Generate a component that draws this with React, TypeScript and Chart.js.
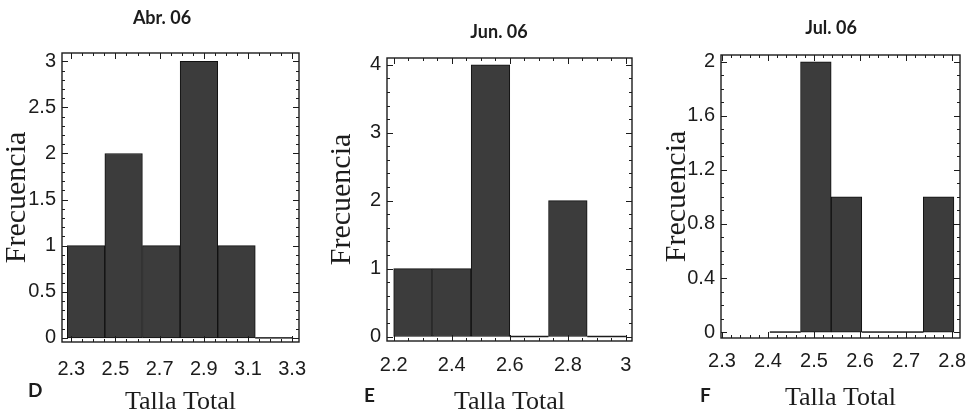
import React, { useEffect, useRef } from 'react';
import { Chart, registerables } from 'chart.js';

Chart.register(...registerables);

// ---------- Panel D : Abr. 06 ----------
const titleD = 'Abr. 06';
const binEdgesD = [2.282, 2.452, 2.622, 2.793, 2.963, 3.133, 3.303];
const countsD = [1, 2, 1, 3, 1, 0];
const xTicksD = [2.3, 2.5, 2.7, 2.9, 3.1, 3.3];
const xTickLabelsD = ['2.3', '2.5', '2.7', '2.9', '3.1', '3.3'];
const yTicksD = [0, 0.5, 1, 1.5, 2, 2.5, 3];
const yTickLabelsD = ['0', '0.5', '1', '1.5', '2', '2.5', '3'];

// ---------- Panel E : Jun. 06 ----------
const titleE = 'Jun. 06';
const binEdgesE = [2.2, 2.333, 2.467, 2.6, 2.733, 2.867, 3.0];
const countsE = [1, 1, 4, 0, 2, 0];
const xTicksE = [2.2, 2.4, 2.6, 2.8, 3.0];
const xTickLabelsE = ['2.2', '2.4', '2.6', '2.8', '3'];
const yTicksE = [0, 1, 2, 3, 4];
const yTickLabelsE = ['0', '1', '2', '3', '4'];

// ---------- Panel F : Jul. 06 ----------
const titleF = 'Jul. 06';
const binEdgesF = [2.404, 2.471, 2.537, 2.604, 2.671, 2.737, 2.804];
const countsF = [0, 2, 1, 0, 0, 1];
const xTicksF = [2.3, 2.4, 2.5, 2.6, 2.7, 2.8];
const xTickLabelsF = ['2.3', '2.4', '2.5', '2.6', '2.7', '2.8'];
const yTicksF = [0, 0.4, 0.8, 1.2, 1.6, 2];
const yTickLabelsF = ['0', '0.4', '0.8', '1.2', '1.6', '2'];

const xAxisTitle = 'Talla Total';
const yAxisTitle = 'Frecuencia';

type Panel = {
  title: string;
  letter: string;
  edges: number[];
  counts: number[];
  xTicks: number[];
  xLabels: string[];
  yTicks: number[];
  yLabels: string[];
  xRange: [number, number];
  yRange: [number, number];
  xMinor: number;
  yMinor: number;
  // layout
  left: number;
  width: number;
  yW: number;
  yRW: number;
  titlePadTop: number;
  titlePadBottom: number;
  xH: number;
  xTickPad: number;
  xTitlePadBottom: number;
  letterPos: [number, number];
};

const panels: Panel[] = [
  {
    title: titleD, letter: 'D', edges: binEdgesD, counts: countsD,
    xTicks: xTicksD, xLabels: xTickLabelsD, yTicks: yTicksD, yLabels: yTickLabelsD,
    xRange: [2.258, 3.331], yRange: [-0.045, 3.09], xMinor: 0.05, yMinor: 0.1,
    left: 0, width: 324, yW: 62, yRW: 25, titlePadTop: 7.2, titlePadBottom: 24.2,
    xH: 77, xTickPad: 15, xTitlePadBottom: 1, letterPos: [28, 379],
  },
  {
    title: titleE, letter: 'E', edges: binEdgesE, counts: countsE,
    xTicks: xTicksE, xLabels: xTickLabelsE, yTicks: yTicksE, yLabels: yTickLabelsE,
    xRange: [2.177, 3.021], yRange: [-0.066, 4.1], xMinor: 0.05, yMinor: 0.2,
    left: 325, width: 348, yW: 62, yRW: 41, titlePadTop: 21.2, titlePadBottom: 15.2,
    xH: 78, xTickPad: 12, xTitlePadBottom: 1, letterPos: [364, 384],
  },
  {
    title: titleF, letter: 'F', edges: binEdgesF, counts: countsF,
    xTicks: xTicksF, xLabels: xTickLabelsF, yTicks: yTicksF, yLabels: yTickLabelsF,
    xRange: [2.298, 2.817], yRange: [-0.044, 2.05], xMinor: 0.02, yMinor: 0.1,
    left: 660, width: 342, yW: 61, yRW: 42, titlePadTop: 17.2, titlePadBottom: 16.2,
    xH: 81, xTickPad: 11, xTitlePadBottom: 5, letterPos: [700, 384],
  },
];

const H = 419;
const INK = '#1c1c1c';
const TICK_FONT = "'Liberation Sans', Arial, sans-serif";
const SERIF = "'Liberation Serif', 'Times New Roman', serif";

const framePlugin = {
  id: 'frameTicks',
  afterDatasetsDraw(chart: any, _args: any, opts: any) {
    const { ctx, chartArea } = chart;
    const { left, right, top, bottom } = chartArea;
    const x = chart.scales.x;
    const y = chart.scales.y;
    const meta = chart.getDatasetMeta(0);
    const ds = chart.data.datasets[0].data as any[];
    ctx.save();
    // zero-count bins are drawn as a line on the baseline
    ctx.strokeStyle = INK;
    ctx.lineWidth = 1.3;
    meta.data.forEach((el: any, i: number) => {
      if (ds[i].y === 0) {
        const p = el.getProps(['x', 'width', 'base'], true);
        ctx.beginPath();
        ctx.moveTo(p.x - p.width / 2, p.base);
        ctx.lineTo(p.x + p.width / 2, p.base);
        ctx.stroke();
      }
    });
    // frame
    ctx.lineWidth = 1.4;
    ctx.strokeRect(left, top, right - left, bottom - top);
    ctx.lineWidth = 1;
    const tickX = (v: number, len: number) => {
      const p = Math.round(x.getPixelForValue(v)) + 0.5;
      if (p < left + 1 || p > right - 1) return;
      ctx.beginPath();
      ctx.moveTo(p, bottom);
      ctx.lineTo(p, bottom - len);
      ctx.moveTo(p, top);
      ctx.lineTo(p, top + len);
      ctx.stroke();
    };
    const tickY = (v: number, len: number) => {
      const p = Math.round(y.getPixelForValue(v)) + 0.5;
      if (p < top + 1 || p > bottom - 1) return;
      ctx.beginPath();
      ctx.moveTo(left, p);
      ctx.lineTo(left + len, p);
      ctx.moveTo(right, p);
      ctx.lineTo(right - len, p);
      ctx.stroke();
    };
    const xs = opts.xMinor as number;
    for (let k = Math.ceil(x.min / xs); k * xs <= x.max; k++) tickX(k * xs, 3);
    const ys = opts.yMinor as number;
    for (let k = Math.ceil(y.min / ys); k * ys <= y.max; k++) tickY(k * ys, 3);
    (opts.xTicks as number[]).forEach((v) => tickX(v, 6));
    (opts.yTicks as number[]).forEach((v) => tickY(v, 6));
    ctx.restore();
  },
};

function Histogram({ p }: { p: Panel }) {
  const ref = useRef<HTMLCanvasElement | null>(null);
  useEffect(() => {
    if (!ref.current) return;
    const data = p.counts.map((c, i) => ({ x: (p.edges[i] + p.edges[i + 1]) / 2, y: c }));
    const chart = new Chart(ref.current, {
      type: 'bar',
      data: {
        datasets: [
          {
            data,
            backgroundColor: '#3c3c3c',
            borderColor: '#111111',
            borderWidth: (c: any) => (c.raw && c.raw.y === 0 ? 0 : 1),
            borderSkipped: false,
            barPercentage: 1,
            categoryPercentage: 1,
          } as any,
        ],
      },
      options: {
        animation: false,
        responsive: false,
        maintainAspectRatio: false,
        events: [],
        layout: { padding: 0 },
        plugins: {
          legend: { display: false },
          tooltip: { enabled: false },
          title: {
            display: true,
            text: p.title,
            color: INK,
            font: { family: 'Lato, sans-serif', size: 18, weight: 'bold', lineHeight: 1.2 },
            padding: { top: p.titlePadTop, bottom: p.titlePadBottom },
          },
          frameTicks: { xMinor: p.xMinor, yMinor: p.yMinor, xTicks: p.xTicks, yTicks: p.yTicks },
        } as any,
        scales: {
          x: {
            type: 'linear',
            position: 'bottom',
            min: p.xRange[0],
            max: p.xRange[1],
            offset: false,
            grid: { display: false, drawTicks: false },
            border: { display: false },
            afterBuildTicks: (s: any) => {
              s.ticks = p.xTicks.map((v) => ({ value: v }));
            },
            afterFit: (s: any) => {
              s.height = p.xH;
            },
            ticks: {
              autoSkip: false,
              maxRotation: 0,
              minRotation: 0,
              padding: p.xTickPad,
              color: INK,
              font: { family: TICK_FONT, size: 20, lineHeight: 1.2 },
              callback: (_v: any, i: number) => p.xLabels[i],
            },
            title: {
              display: true,
              text: xAxisTitle,
              color: INK,
              font: { family: SERIF, size: 26, lineHeight: 1.2 },
              padding: { top: 0, bottom: p.xTitlePadBottom },
            },
          },
          y: {
            type: 'linear',
            position: 'left',
            min: p.yRange[0],
            max: p.yRange[1],
            grid: { display: false, drawTicks: false },
            border: { display: false },
            afterBuildTicks: (s: any) => {
              s.ticks = p.yTicks.map((v) => ({ value: v }));
            },
            afterFit: (s: any) => {
              s.width = p.yW;
            },
            ticks: {
              autoSkip: false,
              padding: 6,
              color: INK,
              font: { family: TICK_FONT, size: 20, lineHeight: 1.2 },
              callback: (_v: any, i: number) => p.yLabels[i],
            },
            title: {
              display: true,
              text: yAxisTitle,
              color: INK,
              font: { family: SERIF, size: 30, lineHeight: 1.2 },
              padding: { top: -1, bottom: 0 },
            },
          },
          yR: {
            type: 'linear',
            position: 'right',
            display: true,
            grid: { display: false, drawTicks: false },
            border: { display: false },
            ticks: { display: false },
            afterFit: (s: any) => {
              s.width = p.yRW;
            },
          },
        } as any,
      },
      plugins: [framePlugin as any],
    });
    return () => chart.destroy();
  }, [p]);
  return (
    <canvas
      ref={ref}
      width={p.width}
      height={H}
      style={{ position: 'absolute', left: p.left, top: 0, width: p.width, height: H }}
    />
  );
}

export default function App() {
  return (
    <div
      style={{
        position: 'absolute',
        left: 0,
        top: 0,
        width: 969,
        height: H,
        overflow: 'hidden',
        background: '#ffffff',
      }}
    >
      {panels.map((p) => (
        <Histogram key={p.letter} p={p} />
      ))}
      {panels.map((p) => (
        <div
          key={'l' + p.letter}
          style={{
            position: 'absolute',
            left: p.letterPos[0],
            top: p.letterPos[1],
            font: 'bold 19px Lato, sans-serif',
            lineHeight: '22px',
            color: INK,
          }}
        >
          {p.letter}
        </div>
      ))}
    </div>
  );
}
